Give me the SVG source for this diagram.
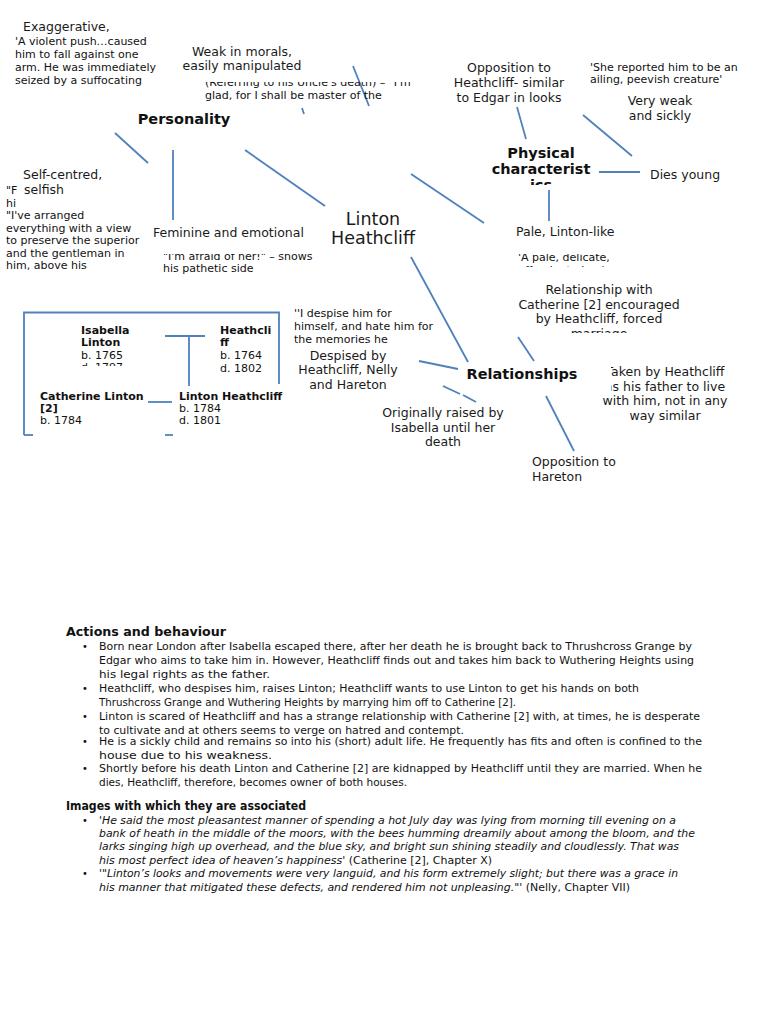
<svg xmlns="http://www.w3.org/2000/svg" width="768" height="1024" viewBox="0 0 768 1024">
<defs>
<style>
.lbl{font-family:"DejaVu Sans",sans-serif;font-size:12.5px;fill:#1a1a1a}
.q{font-family:"DejaVu Sans",sans-serif;font-size:11px;fill:#111}
.hd{font-family:"DejaVu Sans",sans-serif;font-size:14.5px;font-weight:bold;fill:#111}
.ft{font-family:"DejaVu Sans",sans-serif;font-size:11px;fill:#111}
.ftb{font-family:"DejaVu Sans",sans-serif;font-size:11px;font-weight:bold;fill:#111}
.body{font-family:"DejaVu Sans Condensed","DejaVu Sans",sans-serif;font-size:11px;fill:#111}
.bh{font-family:"DejaVu Sans Condensed","DejaVu Sans",sans-serif;font-size:12px;font-weight:bold;fill:#111}
.it{font-style:italic}
.ln{stroke:#4f81bd;stroke-width:1.8;fill:none}
.c{text-anchor:middle}
</style>
<clipPath id="cRef"><rect x="200" y="82" width="230" height="22"/></clipPath>
<clipPath id="cPhys"><rect x="470" y="140" width="150" height="45"/></clipPath>
<clipPath id="cSelfQ"><rect x="0" y="180" width="21" height="30"/></clipPath>
<clipPath id="cAfraid"><rect x="150" y="254" width="180" height="25"/></clipPath>
<clipPath id="cPale"><rect x="505" y="254" width="150" height="13"/></clipPath>
<clipPath id="cRelCat"><rect x="480" y="280" width="240" height="53"/></clipPath>
<clipPath id="cIsab"><rect x="70" y="320" width="80" height="46"/></clipPath>
<clipPath id="cTaken"><rect x="611" y="360" width="140" height="35"/><rect x="590" y="395" width="160" height="35"/></clipPath>
</defs>
<rect width="768" height="1024" fill="#fff"/>

<g id="connectors">
<line class="ln" x1="115" y1="133" x2="148" y2="163"/>
<line class="ln" x1="173" y1="150" x2="173" y2="220"/>
<line class="ln" x1="245" y1="150" x2="325" y2="206"/>
<line class="ln" x1="302" y1="108" x2="304" y2="114"/>
<line class="ln" x1="353" y1="66" x2="369" y2="106"/>
<line class="ln" x1="411" y1="174" x2="484" y2="223"/>
<line class="ln" x1="517" y1="107" x2="526" y2="139"/>
<line class="ln" x1="583" y1="115" x2="632" y2="156"/>
<line class="ln" x1="599" y1="172" x2="640" y2="172"/>
<line class="ln" x1="549" y1="190" x2="549" y2="221"/>
<line class="ln" x1="411" y1="257" x2="468" y2="362"/>
<line class="ln" x1="419" y1="361" x2="458" y2="369"/>
<line class="ln" x1="443" y1="386" x2="460" y2="394"/>
<line class="ln" x1="463" y1="395" x2="476" y2="402"/>
<line class="ln" x1="518" y1="337" x2="534" y2="361"/>
<line class="ln" x1="546" y1="396" x2="574" y2="451"/>
</g>

<g id="exaggerative">
<text class="lbl" x="23" y="31">Exaggerative,</text>
<text class="q" x="15" y="45">'A violent push…caused</text>
<text class="q" x="15" y="58">him to fall against one</text>
<text class="q" x="15" y="71">arm. He was immediately</text>
<text class="q" x="15" y="84">seized by a suffocating</text>
</g>

<g id="weak-morals">
<text class="lbl c" x="242" y="56">Weak in morals,</text>
<text class="lbl c" x="242" y="70">easily manipulated</text>
<g clip-path="url(#cRef)">
<text class="q" x="205" y="86">(Referring to his Uncle's death) – "I'm</text>
<text class="q" x="205" y="99">glad, for I shall be master of the</text>
</g>
</g>

<g id="personality">
<text class="hd c" x="184" y="124">Personality</text>
</g>

<g id="opposition-heathcliff">
<text class="lbl c" x="509" y="72">Opposition to</text>
<text class="lbl c" x="509" y="87">Heathcliff- similar</text>
<text class="lbl c" x="509" y="102">to Edgar in looks</text>
</g>

<g id="very-weak">
<text class="q" x="590" y="71">'She reported him to be an</text>
<text class="q" x="590" y="83">ailing, peevish creature'</text>
<text class="lbl c" x="660" y="105">Very weak</text>
<text class="lbl c" x="660" y="120">and sickly</text>
</g>

<g id="physical">
<g clip-path="url(#cPhys)">
<text class="hd c" x="541" y="158">Physical</text>
<text class="hd c" x="541" y="174">characterist</text>
<text class="hd c" x="541" y="190">ics</text>
</g>
</g>

<g id="dies-young">
<text class="lbl" x="650" y="179">Dies young</text>
</g>

<g id="self-centred">
<g clip-path="url(#cSelfQ)">
<text class="q" x="6" y="194">"F</text>
<text class="q" x="6" y="206.5">hi</text>
</g>
<text class="q" x="6" y="219">"I've arranged</text>
<text class="q" x="6" y="231.5">everything with a view</text>
<text class="q" x="6" y="244">to preserve the superior</text>
<text class="q" x="6" y="256.5">and the gentleman in</text>
<text class="q" x="6" y="269">him, above his</text>
<text class="lbl" x="23" y="179">Self-centred,</text>
<text class="lbl" x="24" y="194">selfish</text>
</g>

<g id="feminine">
<text class="lbl" x="153" y="237">Feminine and emotional</text>
<g clip-path="url(#cAfraid)">
<text class="q" x="163" y="260">"I'm afraid of her!" – shows</text>
</g>
<text class="q" x="163" y="272">his pathetic side</text>
</g>

<g id="linton-heathcliff">
<text class="lbl c" x="373" y="225" style="font-size:17.5px">Linton</text>
<text class="lbl c" x="373" y="244" style="font-size:17.5px">Heathcliff</text>
</g>

<g id="pale">
<text class="lbl" x="516" y="236">Pale, Linton-like</text>
<g clip-path="url(#cPale)">
<text class="q" x="518" y="261">'A pale, delicate,</text>
<text class="q" x="518" y="274">effeminate boy'</text>
</g>
</g>

<g id="relationship-catherine">
<g clip-path="url(#cRelCat)">
<text class="lbl c" x="599" y="294">Relationship with</text>
<text class="lbl c" x="599" y="309">Catherine [2] encouraged</text>
<text class="lbl c" x="599" y="323">by Heathcliff, forced</text>
<text class="lbl c" x="599" y="338">marriage</text>
</g>
</g>

<g id="family-tree">
<path class="ln" d="M24 435 V312.5 H279 V384"/>
<line class="ln" x1="24" y1="435" x2="33" y2="435"/>
<line class="ln" x1="165" y1="435" x2="173" y2="435"/>
<line class="ln" x1="165" y1="336" x2="205" y2="336"/>
<line class="ln" x1="189" y1="336" x2="189" y2="386"/>
<line class="ln" x1="148" y1="402" x2="172" y2="402"/>
<g clip-path="url(#cIsab)">
<text class="ftb" x="81" y="334">Isabella</text>
<text class="ftb" x="81" y="346">Linton</text>
<text class="ft" x="81" y="359">b. 1765</text>
<text class="ft" x="81" y="371">d. 1797</text>
</g>
<text class="ftb" x="220" y="334">Heathcli</text>
<text class="ftb" x="220" y="346">ff</text>
<text class="ft" x="220" y="359">b. 1764</text>
<text class="ft" x="220" y="372">d. 1802</text>
<text class="ftb" x="40" y="400">Catherine Linton</text>
<text class="ftb" x="40" y="412">[2]</text>
<text class="ft" x="40" y="424">b. 1784</text>
<text class="ftb" x="179" y="400">Linton Heathcliff</text>
<text class="ft" x="179" y="412">b. 1784</text>
<text class="ft" x="179" y="424">d. 1801</text>
</g>

<g id="despised">
<text class="q" x="294" y="317">''I despise him for</text>
<text class="q" x="294" y="330">himself, and hate him for</text>
<text class="q" x="294" y="343">the memories he</text>
<text class="lbl c" x="348" y="360">Despised by</text>
<text class="lbl c" x="348" y="374">Heathcliff, Nelly</text>
<text class="lbl c" x="348" y="389">and Hareton</text>
</g>

<g id="relationships">
<text class="hd c" x="522" y="379">Relationships</text>
</g>

<g id="originally-raised">
<text class="lbl c" x="443" y="417">Originally raised by</text>
<text class="lbl c" x="443" y="432">Isabella until her</text>
<text class="lbl c" x="443" y="446">death</text>
</g>

<g id="opposition-hareton">
<text class="lbl" x="532" y="466">Opposition to</text>
<text class="lbl" x="532" y="481">Hareton</text>
</g>

<g id="taken-by-heathcliff">
<g clip-path="url(#cTaken)">
<text class="lbl c" x="665" y="376">Taken by Heathcliff</text>
<text class="lbl c" x="665" y="391">as his father to live</text>
<text class="lbl c" x="665" y="405">with him, not in any</text>
<text class="lbl c" x="665" y="420">way similar</text>
</g>
</g>

<g id="actions">
<text class="bh" x="66" y="636" textLength="160" lengthAdjust="spacingAndGlyphs">Actions and behaviour</text>
<g class="body">
<text x="82" y="650">•</text>
<text x="99" y="650" textLength="593" lengthAdjust="spacingAndGlyphs">Born near London after Isabella escaped there, after her death he is brought back to Thrushcross Grange by</text>
<text x="99" y="664" textLength="595" lengthAdjust="spacingAndGlyphs">Edgar who aims to take him in. However, Heathcliff finds out and takes him back to Wuthering Heights using</text>
<text x="99" y="678" textLength="171" lengthAdjust="spacingAndGlyphs">his legal rights as the father.</text>
<text x="82" y="692">•</text>
<text x="99" y="692" textLength="540" lengthAdjust="spacingAndGlyphs">Heathcliff, who despises him, raises Linton; Heathcliff wants to use Linton to get his hands on both</text>
<text x="99" y="706" textLength="417" lengthAdjust="spacingAndGlyphs">Thrushcross Grange and Wuthering Heights by marrying him off to Catherine [2].</text>
<text x="82" y="720">•</text>
<text x="99" y="720" textLength="601" lengthAdjust="spacingAndGlyphs">Linton is scared of Heathcliff and has a strange relationship with Catherine [2] with, at times, he is desperate</text>
<text x="99" y="734" textLength="365" lengthAdjust="spacingAndGlyphs">to cultivate and at others seems to verge on hatred and contempt.</text>
<text x="82" y="745">•</text>
<text x="99" y="745" textLength="603" lengthAdjust="spacingAndGlyphs">He is a sickly child and remains so into his (short) adult life. He frequently has fits and often is confined to the</text>
<text x="99" y="759" textLength="173" lengthAdjust="spacingAndGlyphs">house due to his weakness.</text>
<text x="82" y="772">•</text>
<text x="99" y="772" textLength="603" lengthAdjust="spacingAndGlyphs">Shortly before his death Linton and Catherine [2] are kidnapped by Heathcliff until they are married. When he</text>
<text x="99" y="786" textLength="308" lengthAdjust="spacingAndGlyphs">dies, Heathcliff, therefore, becomes owner of both houses.</text>
</g>
</g>

<g id="images">
<text class="bh" x="66" y="810" textLength="240" lengthAdjust="spacingAndGlyphs">Images with which they are associated</text>
<g class="body">
<text x="82" y="824">•</text>
<text class="it" x="99" y="824" textLength="577" lengthAdjust="spacingAndGlyphs">'He said the most pleasantest manner of spending a hot July day was lying from morning till evening on a</text>
<text class="it" x="99" y="837" textLength="596" lengthAdjust="spacingAndGlyphs">bank of heath in the middle of the moors, with the bees humming dreamily about among the bloom, and the</text>
<text class="it" x="99" y="850" textLength="580" lengthAdjust="spacingAndGlyphs">larks singing high up overhead, and the blue sky, and bright sun shining steadily and cloudlessly. That was</text>
<text x="99" y="864" textLength="393" lengthAdjust="spacingAndGlyphs"><tspan class="it">his most perfect idea of heaven’s happiness'</tspan> (Catherine [2], Chapter X)</text>
<text x="82" y="877">•</text>
<text class="it" x="99" y="877" textLength="579" lengthAdjust="spacingAndGlyphs">'"Linton’s looks and movements were very languid, and his form extremely slight; but there was a grace in</text>
<text x="99" y="891" textLength="531" lengthAdjust="spacingAndGlyphs"><tspan class="it">his manner that mitigated these defects, and rendered him not unpleasing."'</tspan> (Nelly, Chapter VII)</text>
</g>
</g>
</svg>
